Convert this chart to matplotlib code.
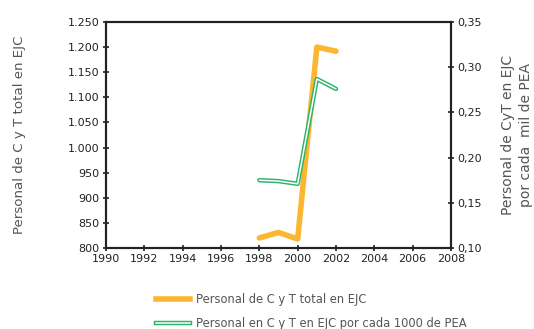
import matplotlib.pyplot as plt
import matplotlib.patheffects as pe
from matplotlib.lines import Line2D
from matplotlib.ticker import FuncFormatter

years = [1998, 1999, 2000, 2001, 2002]
personal_total = [820, 831, 818, 1200, 1192]
personal_por_pea = [0.175, 0.174, 0.171, 0.287, 0.276]

ORANGE = "#FDB62F"
GREEN = "#2DB36B"
GRAY = "#555555"

fig = plt.figure(figsize=(5.34, 3.29), dpi=100)
ax = fig.add_axes([0.1985, 0.2462, 0.6461, 0.6868])
ax2 = ax.twinx()

# Total personnel (left axis)
ax.plot(years, personal_total, color=ORANGE, linewidth=4, solid_capstyle="round", zorder=3)
ax.set_xlim(1990, 2008)
ax.set_ylim(800, 1250)
ax.set_xticks(range(1990, 2009, 2))
ax.set_yticks(range(800, 1251, 50))
ax.yaxis.set_major_formatter(FuncFormatter(lambda v, p: f"{int(v):,}".replace(",", ".")))

# Personnel per 1000 PEA (right axis), drawn as a double line
ax2.plot(years, personal_por_pea, color=GREEN, linewidth=3.2, solid_capstyle="round")
ax2.plot(years, personal_por_pea, color="white", linewidth=1.1, solid_capstyle="round")
ax2.set_ylim(0.10, 0.35)
ax2.set_yticks([0.10, 0.15, 0.20, 0.25, 0.30, 0.35])
ax2.yaxis.set_major_formatter(FuncFormatter(lambda v, p: f"{v:.2f}".replace(".", ",")))

for a in (ax, ax2):
    for s in a.spines.values():
        s.set_color("#222222")
        s.set_linewidth(1.5)
    a.tick_params(direction="inout", length=5, width=1.2, labelsize=8, pad=2, colors="#222222")

ax.set_ylabel("Personal de C y T total en EJC", fontsize=9.6, color=GRAY, labelpad=30)
ax2.set_ylabel("Personal de CyT en EJC\npor cada  mil de PEA", fontsize=10, color=GRAY,
               labelpad=14, linespacing=1.3)

handles = [
    Line2D([], [], color=ORANGE, linewidth=4),
    Line2D([], [], color=GREEN, linewidth=3.2,
           path_effects=[pe.Stroke(linewidth=3.2, foreground=GREEN), pe.Stroke(linewidth=1.1, foreground="white")]),
]
fig.legend(handles, ["Personal de C y T total en EJC", "Personal en C y T en EJC por cada 1000 de PEA"],
           loc="upper left", bbox_to_anchor=(0.272, 0.14), frameon=False, fontsize=8.3,
           labelcolor=GRAY, handlelength=3.0, handletextpad=0.5, labelspacing=0.95)

fig.savefig("out.png", dpi=100)
